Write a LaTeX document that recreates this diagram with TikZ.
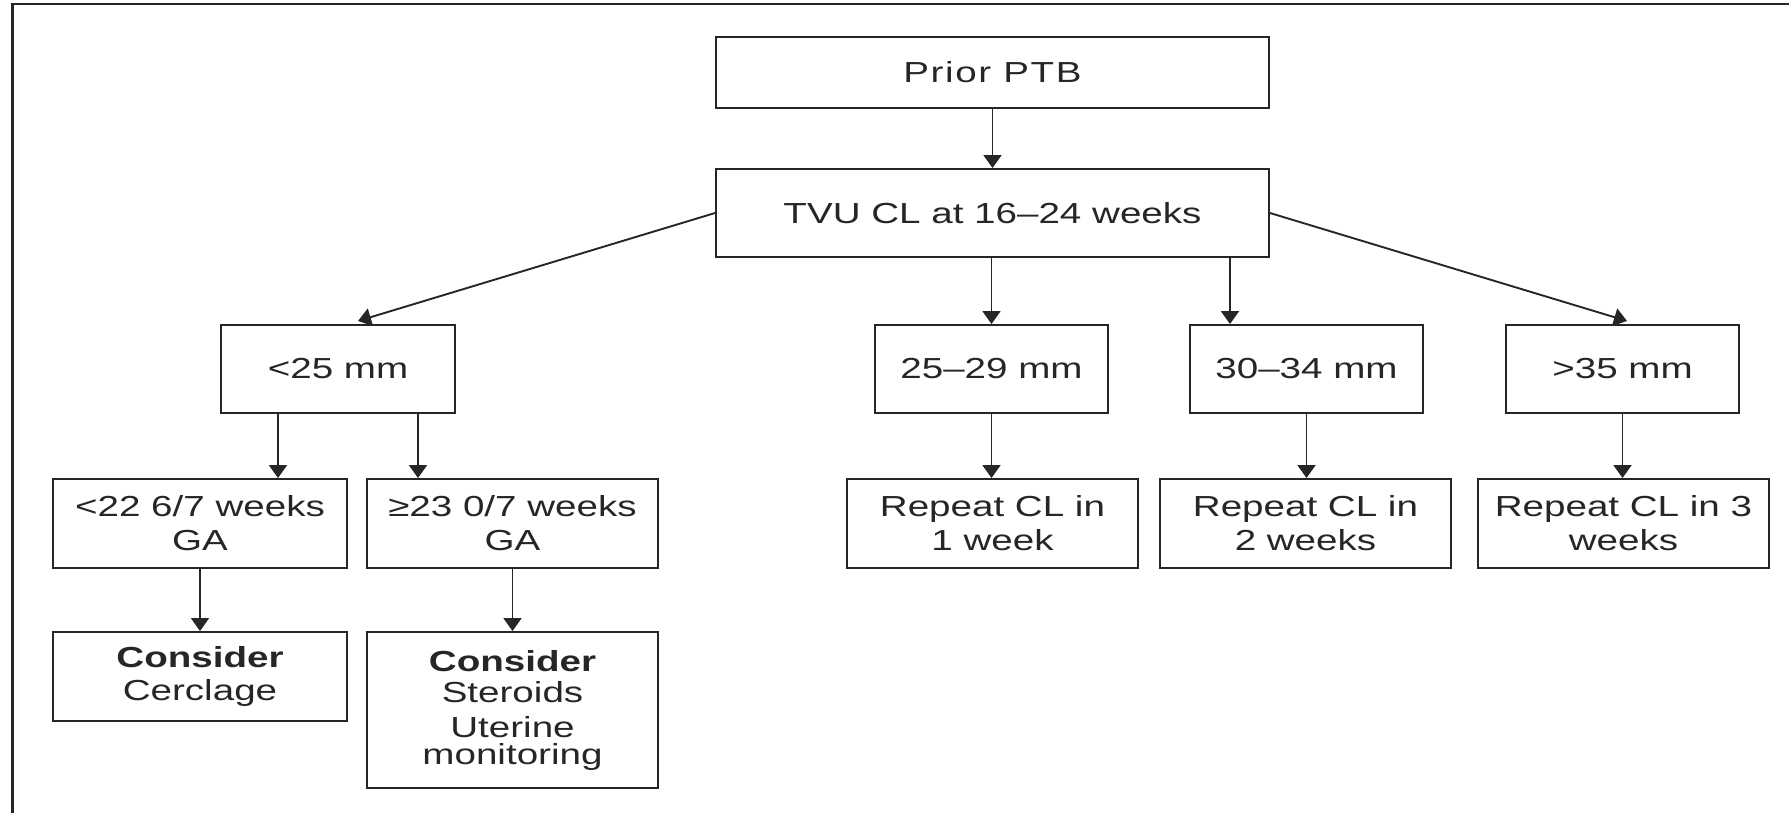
\documentclass[tikz,border=0pt]{standalone}
\usepackage{fontspec}
\setmainfont{Liberation Sans}[FakeStretch=1.33]
\usetikzlibrary{arrows.meta,calc}
\definecolor{ink}{RGB}{38,38,38}
\begin{document}
\begin{tikzpicture}[x=0.5pt,y=-0.5pt,
  box/.style={draw=ink, line width=0.95pt, text=ink, align=center, inner sep=0pt,
              font=\fontsize{14.5}{17}\selectfont},
  arr/.style={draw=ink, line width=0.95pt, -{Triangle[width=9pt,length=6.5pt]}},
  frame/.style={draw=ink, line width=1.4pt, line join=miter}]
\useasboundingbox (0,0) rectangle (1789,813);
\draw[frame] (12.7,813) -- (12.7,4) -- (1789,4);

% top levels
\node[box, minimum width=276.5pt, minimum height=35.5pt] (prior) at (992.5,72.5) {\addfontfeature{LetterSpace=5.5}Prior PTB};
\node[box, minimum width=276.5pt, minimum height=44pt] (tvu) at (992.5,213) {TVU CL at 16–24 weeks};

% length categories
\node[box, minimum width=117pt, minimum height=44pt] (lt25) at (338,369) {<25 mm};
\node[box, minimum width=116.5pt, minimum height=44pt] (m2529) at (991.5,369) {25–29 mm};
\node[box, minimum width=116.5pt, minimum height=44pt] (m3034) at (1306.5,369) {30–34 mm};
\node[box, minimum width=116.5pt, minimum height=44pt] (gt35) at (1622.5,369) {>35 mm};

% third row
\node[box, minimum width=147pt, minimum height=44.5pt] (lt22) at (200,523.5) {<22 6/7 weeks\\GA};
\node[box, minimum width=145.5pt, minimum height=44.5pt] (ge23) at (512.5,523.5) {≥23 0/7 weeks\\GA};
\node[box, minimum width=145.5pt, minimum height=44.5pt] (rep1) at (992.5,523.5) {Repeat CL in\\1 week};
\node[box, minimum width=145.5pt, minimum height=44.5pt] (rep2) at (1305.5,523.5) {Repeat CL in\\2 weeks};
\node[box, minimum width=145.5pt, minimum height=44.5pt] (rep3) at (1623.5,523.5) {Repeat CL in 3\\weeks};

% fourth row
\node[box, minimum width=147pt, minimum height=44.5pt] (cons1) at (200,676.5) {\textbf{Consider}\\[-0.5pt]Cerclage};
\node[box, minimum width=145.5pt, minimum height=78pt] (cons2) at (512.5,710) {\textbf{Consider}\\[-1.5pt]Steroids\\[0.5pt]Uterine\\[-3.5pt]monitoring};

% connector helpers
\coordinate (tipL) at (358,321);
\coordinate (tipR) at (1627,321);
\coordinate (x3034) at (1230,0);
\coordinate (xa) at (278,0);
\coordinate (xb) at (418,0);

\draw[arr] (prior) -- (tvu);
\draw[arr] (tvu.west) -- (tipL);
\draw[arr] (tvu.east) -- (tipR);
\draw[arr] (tvu.south -| m2529.north) -- (m2529.north);
\draw[arr] (tvu.south -| x3034) -- (m3034.north -| x3034);
\draw[arr] (lt25.south -| xa) -- (lt22.north -| xa);
\draw[arr] (lt25.south -| xb) -- (ge23.north -| xb);
\draw[arr] (lt22) -- (cons1);
\draw[arr] (ge23) -- (cons2);
\draw[arr] (m2529.south) -- (m2529.south |- rep1.north);
\draw[arr] (m3034.south) -- (m3034.south |- rep2.north);
\draw[arr] (gt35.south) -- (gt35.south |- rep3.north);
\end{tikzpicture}
\end{document}
